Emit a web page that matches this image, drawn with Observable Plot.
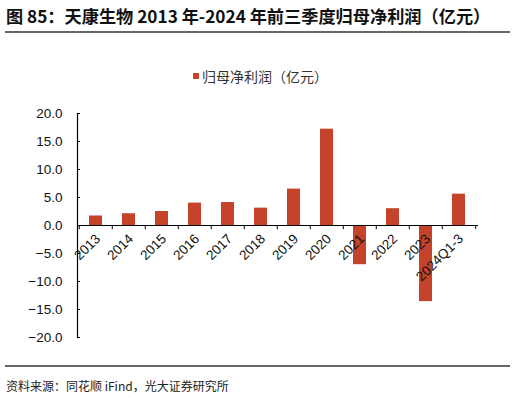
<!DOCTYPE html>
<html><head><meta charset="utf-8">
<script src="https://cdn.jsdelivr.net/npm/d3@7"></script>
<script src="https://cdn.jsdelivr.net/npm/@observablehq/plot@0.6"></script>
<style>
body{margin:0;width:516px;height:398px;position:relative;background:#fff;overflow:hidden;font-family:"Liberation Sans",Arial,sans-serif;}
#title{position:absolute;left:6px;top:3px;font-family:"Noto Sans CJK SC",sans-serif;font-weight:bold;font-size:17.2px;color:#111;white-space:nowrap;}
.rule{position:absolute;left:5px;width:505px;height:1.5px;background:#666;}
#legend{position:absolute;left:193px;top:66px;font-family:"Noto Sans CJK SC",sans-serif;font-size:14px;color:#333;white-space:nowrap;display:flex;align-items:center;}
#legend span.sw{display:inline-block;width:6px;height:6px;background:#c4432a;margin-right:3px;}
#chart{position:absolute;left:0;top:100px;}
#source{position:absolute;left:6px;top:377px;font-family:"Noto Sans CJK SC",sans-serif;font-size:12px;color:#222;white-space:nowrap;}
</style></head>
<body>
<div id="title">图 85：天康生物 2013 年-2024 年前三季度归母净利润（亿元）</div>
<div class="rule" style="top:31px"></div>
<div id="legend"><span class="sw"></span>归母净利润（亿元）</div>
<div id="chart"></div>
<div class="rule" style="top:365px"></div>
<div id="source">资料来源：同花顺 iFind，光大证券研究所</div>
<script>
const categories = ["2013","2014","2015","2016","2017","2018","2019","2020","2021","2022","2023","2024Q1-3"];
const profit = [1.7, 2.1, 2.5, 4.0, 4.1, 3.1, 6.5, 17.2, -7.0, 3.0, -13.6, 5.6];
const yTicks = [-20, -15, -10, -5, 0, 5, 10, 15, 20];

const data = categories.map((c, i) => ({cat: c, v: profit[i]}));
const W = 516, H = 250, ML = 77, MR = 38, MT = 13, MB = 13;
const bw = (W - ML - MR) / categories.length;

const plot = Plot.plot({
  width: W, height: H,
  marginLeft: ML, marginRight: MR, marginTop: MT, marginBottom: MB,
  style: {fontFamily: "Liberation Sans, Arial, sans-serif", fontSize: "13px", color: "#111", background: "transparent"},
  x: {domain: categories, paddingInner: 0.6, paddingOuter: 0.3, axis: null},
  y: {domain: [-20, 20], ticks: yTicks, label: null},
  marks: [
    Plot.axisY(yTicks, {tickSize: 0, tickPadding: 15, tickFormat: d3.format(".1f"), fontSize: 13.5, fill: "#111", label: null}),
    Plot.tickY(yTicks, {y: d => d, insetRight: W - ML - MR - 3, stroke: "#000", strokeWidth: 1}),
    Plot.barY(data, {x: "cat", y: "v", fill: "#c4432a"}),
    Plot.frame({anchor: "left", stroke: "#000", strokeWidth: 1.2}),
    Plot.ruleY([0], {stroke: "#000", strokeWidth: 1.2}),
    Plot.ruleX(categories, {x: d => d, y1: 0, y2: -0.75, dx: -bw / 2, stroke: "#000"}),
    Plot.ruleX([categories[categories.length - 1]], {x: d => d, y1: 0, y2: -0.75, dx: bw / 2, stroke: "#000"}),
    Plot.text(categories, {x: d => d, y: 0, text: d => d, rotate: -45, textAnchor: "end", dx: 2, dy: 11, fontSize: 13.5, fill: "#111"})
  ]
});
document.getElementById("chart").appendChild(plot);
</script>
</body></html>
